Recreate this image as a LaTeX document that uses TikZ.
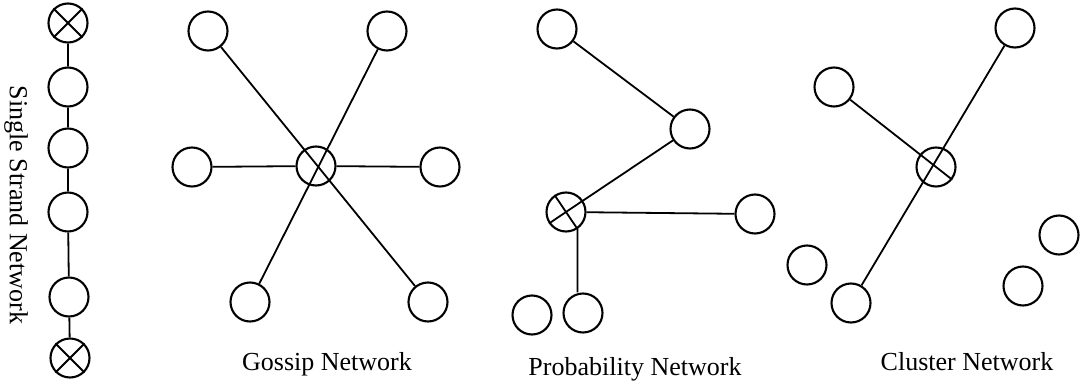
\documentclass[tikz,border=0pt]{standalone}
\usepackage{fontspec}
\setmainfont{Liberation Serif}
\tikzset{peer/.style = {draw, circle, minimum size = 39pt, inner sep = 0pt, line width = 2.1pt},
         link/.style = {line width = 1.8pt},
         caption/.style = {font = \fontsize{26}{30}\selectfont, anchor = base}}

\begin{document}
\begin{tikzpicture}[x = 1pt, y = -1pt]
    \useasboundingbox (0, 0) rectangle (1082, 388);

    \node [peer] (s1) at (68, 23) {};
    \node [peer] (s2) at (68, 87) {};
    \node [peer] (s3) at (68, 148) {};
    \node [peer] (s4) at (68, 212) {};
    \node [peer] (s5) at (69, 297) {};
    \node [peer] (s6) at (70, 358) {};
    \draw [link] (s1) -- (s2) (s2) -- (s3) (s3) -- (s4) (s4) -- (s5) (s5) -- (s6);
    \draw [link] (s1.45) -- (s1.225) (s1.135) -- (s1.-45);
    \draw [link] (s6.45) -- (s6.225) (s6.135) -- (s6.-45);
    \node [caption, rotate = -90, anchor = center] (lss) at (16, 205) {Single Strand Network};

    \node [peer] (g0) at (316, 166) {};
    \node [peer] (gtl) at (208, 31) {};
    \node [peer] (gtr) at (387, 31) {};
    \node [peer] (gl) at (192, 167) {};
    \node [peer] (gr) at (440, 167) {};
    \node [peer] (gbl) at (250, 302) {};
    \node [peer] (gbr) at (428, 302) {};
    \draw [link] (gtl) -- (gbr);
    \draw [link] (gtr) -- (gbl);
    \draw [link] (gl) -- (g0) -- (gr);
    \node [caption] (lg) at (327, 370) {Gossip Network};

    \node [peer] (p0) at (566, 212) {};
    \node [peer] (ptop) at (557, 29) {};
    \node [peer] (pmid) at (690, 129) {};
    \node [peer] (pr) at (755, 214) {};
    \node [peer] (pb1) at (532, 315) {};
    \node [peer] (pb2) at (583, 313) {};
    \draw [link] (ptop) -- (pmid) -- (p0);
    \draw [link] (p0.34) -- (p0.214);
    \draw [link] (p0.124) -- (p0.-56) -- (p0.-56 |- pb2.north);
    \draw [link] (p0) -- (pr);
    \node [caption] (lp) at (635, 375) {Probability Network};

    \node [peer] (c0) at (936, 167) {};
    \node [peer] (ctr) at (1015, 28) {};
    \node [peer] (cl) at (834, 87) {};
    \node [peer] (cb) at (851, 303) {};
    \node [peer] (cbl) at (807, 265) {};
    \node [peer] (cr1) at (1059, 235) {};
    \node [peer] (cr2) at (1023, 286) {};
    \draw [link] (ctr) -- (cb);
    \draw [link] (cl) -- (c0.-38);
    \node [caption] (lc) at (967, 370) {Cluster Network};
  \end{tikzpicture}
\end{document}
